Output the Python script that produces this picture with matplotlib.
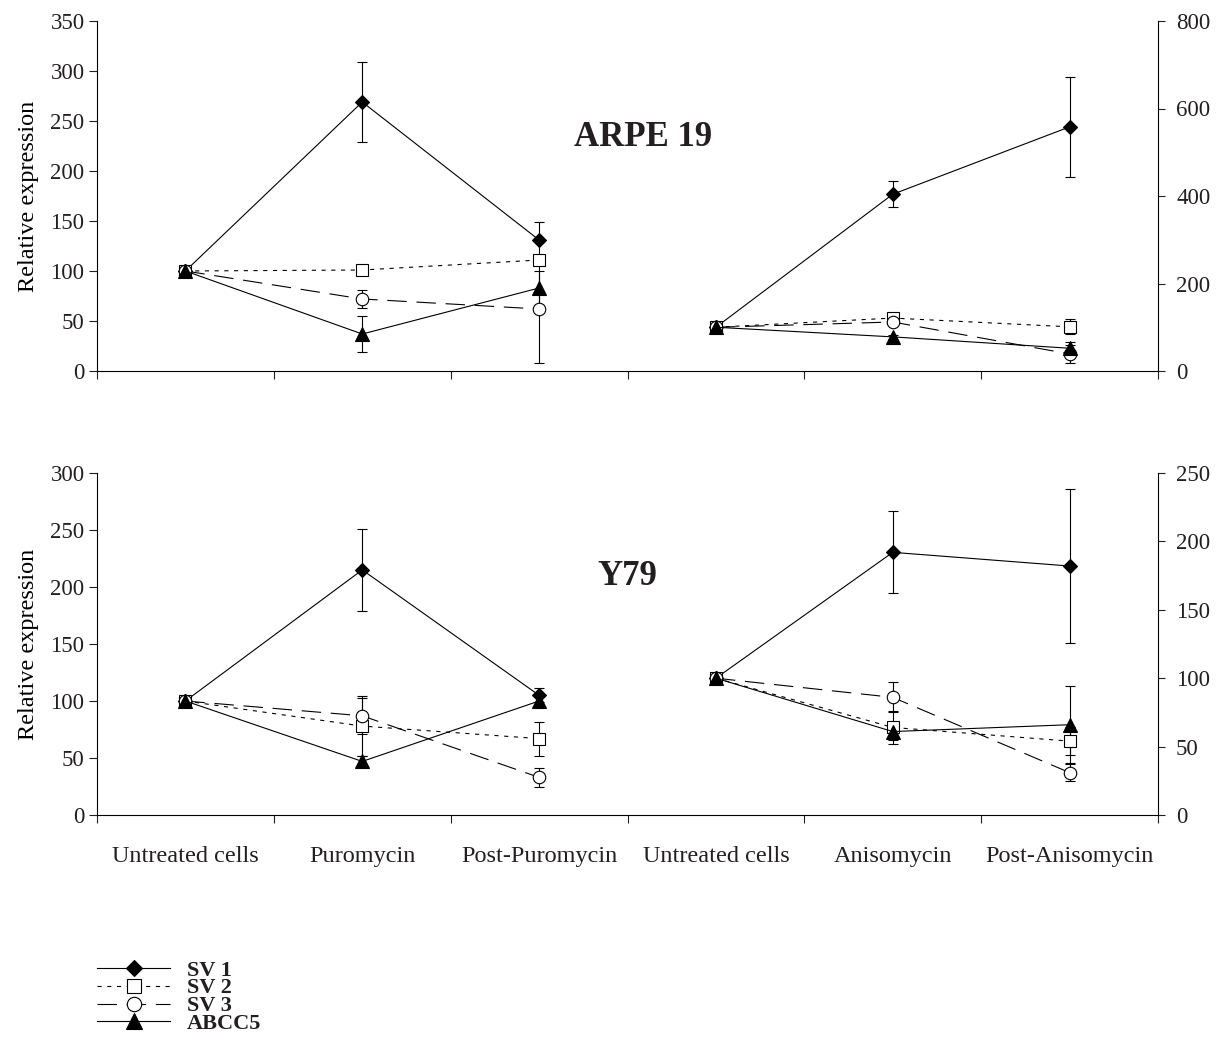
import matplotlib
matplotlib.use('Agg')
import matplotlib.pyplot as plt
import numpy as np

plt.rcParams['font.family'] = ['Liberation Serif', 'DejaVu Serif']
plt.rcParams['lines.scale_dashes'] = False
plt.rcParams['text.color'] = '#231f20'
plt.rcParams['xtick.color'] = '#231f20'
plt.rcParams['ytick.color'] = '#231f20'

# categories
cats_puro = ['Untreated cells', 'Puromycin', 'Post-Puromycin']
cats_aniso = ['Untreated cells', 'Anisomycin', 'Post-Anisomycin']
series = ['SV 1', 'SV 2', 'SV 3', 'ABCC5']

# ARPE 19, puromycin (left axis)
arpe_puro = [[100, 269, 131], [100, 101, 111], [100, 72, 62], [100, 37, 83]]
arpe_puro_err = [[0, 40, 18], [0, 3, 3], [0, 9, 54], [0, 18, 17]]
# ARPE 19, anisomycin (right axis)
arpe_aniso = [[100, 404, 558], [100, 121, 101], [100, 112, 39], [100, 78, 52]]
arpe_aniso_err = [[0, 30, 115], [0, 5, 17], [0, 5, 20], [0, 5, 15]]

# Y79, puromycin (left axis)
y79_puro = [[100, 215, 105], [100, 78, 67], [100, 87, 33], [100, 47, 100]]
y79_puro_err = [[0, 36, 6], [0, 26, 15], [0, 16, 8], [0, 5, 5]]
# Y79, anisomycin (right axis)
y79_aniso = [[100, 192, 182], [100, 64, 54], [100, 86, 31], [100, 61, 66]]
y79_aniso_err = [[0, 30, 56], [0, 12, 10], [0, 11, 6], [0, 6, 28]]

styles = {
    'SV 1': dict(marker='D', ms=7, mfc='k', ls='-'),
    'SV 2': dict(marker='s', ms=9, mfc='white', ls=(0, (3, 4))),
    'SV 3': dict(marker='o', ms=9, mfc='white', ls=(0, (14, 7))),
    'ABCC5': dict(marker='^', ms=10, mfc='k', ls='-'),
}

W, H = 1217, 1044
fig = plt.figure(figsize=(W / 100, H / 100), dpi=100)


def draw_group(ax, xs, vals, errs):
    handles = []
    for name, v, e in zip(series, vals, errs):
        ax.errorbar(xs[1:], v[1:], yerr=e[1:], fmt='none', ecolor='k',
                    elinewidth=0.8, capsize=3.5, capthick=0.8, zorder=2)
        h, = ax.plot(xs, v, color='k', lw=0.8, mec='k', mew=0.8, zorder=3,
                     label=name, **styles[name])
        handles.append(h)
    return handles


def panel(rect, lmax, lstep, rmax, rstep, puro, puro_err, aniso, aniso_err,
          title, tpos, show_labels):
    ax = fig.add_axes(rect)
    ax2 = ax.twinx()
    ax.set_xlim(0, 6)
    ax.set_ylim(0, lmax)
    ax2.set_ylim(0, rmax)
    ax.set_yticks(np.arange(0, lmax + 1, lstep))
    ax2.set_yticks(np.arange(0, rmax + 1, rstep))
    for s in ['top', 'right']:
        ax.spines[s].set_visible(False)
    for s in ['top', 'left', 'bottom']:
        ax2.spines[s].set_visible(False)
    for a in (ax, ax2):
        for sp in a.spines.values():
            sp.set_linewidth(0.8)
    ax.set_xticks(range(7))
    ax.set_xticklabels([])
    ax.set_xticks(np.arange(0.5, 6, 1), minor=True)
    if show_labels:
        ax.set_xticklabels(cats_puro + cats_aniso, minor=True)
    ax.tick_params(axis='x', which='major', direction='out', length=6, width=0.8)
    ax.tick_params(axis='x', which='minor', length=0, pad=22, labelsize=17.5)
    ax.tick_params(axis='y', direction='out', length=6, width=0.8,
                   labelsize=16.5, pad=3)
    ax2.tick_params(axis='y', direction='out', length=5, width=0.8,
                    labelsize=16.5, pad=8)
    ax.set_ylabel('Relative expression', fontsize=17.5, labelpad=8)
    h = draw_group(ax, [0.5, 1.5, 2.5], puro, puro_err)
    draw_group(ax2, [3.5, 4.5, 5.5], aniso, aniso_err)
    ax.text(tpos[0], tpos[1], title, transform=ax.transAxes, ha='center',
            va='center', fontsize=25, fontweight='bold')
    return h


x0, x1 = 97, 1158
panel([x0 / W, 1 - 371 / H, (x1 - x0) / W, 350 / H], 350, 50, 800, 200,
      arpe_puro, arpe_puro_err, arpe_aniso, arpe_aniso_err,
      'ARPE 19', (0.515, 0.666), False)
handles = panel([x0 / W, 1 - 815 / H, (x1 - x0) / W, 342 / H], 300, 50, 250, 50,
                y79_puro, y79_puro_err, y79_aniso, y79_aniso_err,
                'Y79', (0.5, 0.696), True)

fig.legend(handles, series, loc='upper left',
           bbox_to_anchor=(x0 / W, 1 - 960 / H), frameon=False,
           prop=dict(weight='bold', size=16), handlelength=3.3,
           handletextpad=0.75, labelspacing=-0.12, borderpad=0,
           borderaxespad=0, markerscale=1.15)

fig.savefig('out.png', dpi=100)
